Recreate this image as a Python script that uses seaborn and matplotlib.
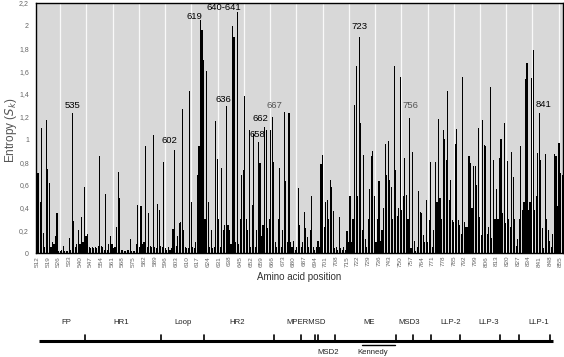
import numpy as np
import pandas as pd
import matplotlib
matplotlib.use("Agg")
import matplotlib.pyplot as plt
import seaborn as sns

sns.set_theme(style="white")
plt.rcParams['font.family'] = ['Liberation Sans', 'DejaVu Sans']

# ---------------- data ----------------
first_pos = 512
entropy = [
    # 512-530
    0.70, 0.70, 0.45, 1.10, 0.18, 0.05, 1.17, 0.74, 0.62, 0.05, 0.10, 0.08, 0.15, 0.35, 0.02, 0.02, 0.03, 0.06, 0.02,
    # 531-550
    0.02, 0.02, 0.13, 0.03, 1.23, 0.28, 0.05, 0.08, 0.20, 0.08, 0.32, 0.10, 0.58, 0.15, 0.17, 0.05, 0.04, 0.05, 0.04, 0.05,
    # 551-570
    0.04, 0.06, 0.85, 0.06, 0.05, 0.03, 0.52, 0.03, 0.08, 0.15, 0.08, 0.04, 0.05, 0.23, 0.71, 0.48, 0.03, 0.03, 0.02, 0.02,
    # 571-590
    0.03, 0.03, 0.12, 0.02, 0.02, 0.02, 0.08, 0.42, 0.05, 0.41, 0.08, 0.10, 0.94, 0.05, 0.35, 0.06, 0.05, 1.04, 0.05, 0.04,
    # 591-610
    0.43, 0.38, 0.06, 0.05, 0.80, 0.04, 0.03, 0.05, 0.03, 0.04, 0.21, 0.91, 0.06, 0.15, 0.26, 0.27, 1.27, 0.20, 0.05, 0.04,
    # 611-630
    0.04, 1.43, 0.45, 0.05, 0.04, 0.10, 0.69, 0.94, 2.05, 1.96, 1.70, 0.30, 1.60, 0.45, 0.05, 0.20, 0.04, 0.05, 1.16, 0.83,
    # 631-650
    0.30, 0.05, 0.75, 0.20, 0.25, 1.29, 0.25, 0.20, 0.08, 2.00, 1.90, 0.10, 2.12, 0.08, 0.30, 0.69, 0.73, 1.38, 0.30, 0.20,
    # 651-670
    1.08, 0.05, 0.42, 1.05, 0.05, 0.20, 0.98, 0.79, 0.15, 0.25, 1.11, 1.08, 0.22, 0.30, 1.08, 1.20, 0.80, 0.10, 0.05, 0.30,
    # 671-690
    0.75, 0.05, 0.20, 1.24, 0.63, 0.10, 1.23, 0.10, 0.05, 0.11, 0.03, 0.05, 0.57, 0.25, 0.05, 0.10, 0.36, 0.22, 0.14, 0.05,
    # 691-710
    0.20, 0.50, 0.05, 0.03, 0.05, 0.11, 0.05, 0.78, 0.86, 0.23, 0.45, 0.47, 0.30, 0.64, 0.58, 0.37, 0.04, 0.05, 0.03, 0.32,
    # 711-730
    0.04, 0.03, 0.05, 0.03, 0.19, 0.10, 0.50, 0.10, 0.30, 1.30, 1.65, 0.50, 1.90, 1.14, 0.20, 0.86, 0.12, 0.05, 0.30, 0.56,
    # 731-750
    0.85, 0.90, 0.50, 0.10, 0.30, 0.63, 0.11, 0.20, 0.40, 0.96, 0.69, 0.99, 0.64, 0.58, 0.30, 1.65, 0.73, 0.33, 0.40, 1.55,
    # 751-770
    0.38, 0.50, 0.84, 0.51, 0.30, 1.19, 0.04, 0.89, 0.11, 0.02, 0.05, 0.55, 0.36, 0.35, 0.16, 0.10, 0.47, 0.10, 0.29, 0.80,
    # 771-790
    0.05, 0.20, 0.80, 0.45, 1.18, 0.48, 0.30, 1.08, 1.00, 0.82, 1.43, 0.47, 0.64, 0.29, 0.27, 0.96, 1.09, 0.29, 0.25, 0.17,
    # 791-810
    1.55, 0.27, 0.23, 0.23, 0.85, 0.79, 0.40, 0.77, 0.77, 0.60, 1.10, 0.32, 0.16, 1.17, 0.95, 0.94, 0.17, 0.23, 1.46, 0.13,
    # 811-830
    0.82, 0.30, 0.56, 0.30, 0.84, 1.00, 0.35, 1.14, 0.26, 0.81, 0.30, 0.23, 0.89, 0.67, 0.30, 0.06, 0.12, 0.30, 0.94, 0.38,
    # 831-850
    0.45, 1.53, 1.67, 0.38, 0.45, 1.54, 1.79, 0.38, 0.50, 0.88, 1.23, 0.82, 0.22, 0.04, 0.87, 0.30, 0.20, 0.11, 0.05, 0.17,
    # 851-856
    0.87, 0.85, 0.41, 0.97, 0.70, 0.69,
]
positions = list(range(first_pos, first_pos + len(entropy)))

tick_positions = list(range(512, 856, 7))
ytick_values = [0, 0.2, 0.4, 0.6, 0.8, 1.0, 1.2, 1.4, 1.6, 1.8, 2.0, 2.2]
ytick_labels = ["0", "0,2", "0,4", "0,6", "0,8", "1", "1,2", "1,4", "1,6", "1,8", "2", "2,2"]

# peak annotations: text, x (position), y (entropy), colour
peak_text = ["535", "602", "619", "640-641", "636", "662", "658", "667", "723", "756", "841"]
peak_x = [535, 598.6, 615.3, 634.6, 633.8, 658.6, 656.3, 667.8, 723.2, 756.5, 843.6]
peak_y = [1.30, 0.99, 2.08, 2.16, 1.35, 1.18, 1.04, 1.30, 1.99, 1.30, 1.31]
peak_col = ["black", "black", "black", "black", "black", "black", "black", "#555555", "black", "#555555", "black"]

# domain map
domain_names = ["FP", "HR1", "Loop", "HR2", "MPERMSD", "ME", "MSD3", "LLP-2", "LLP-3", "LLP-1"]
domain_centers = [531, 567, 607.3, 643.3, 688, 729.6, 755.7, 783.1, 808, 840.7]
boundary_pos = [543, 593, 621, 667, 685, 694, 696, 707, 747, 758, 770, 789, 815, 828, 848]
map_start, map_end = 513, 850
lower_names = ["MSD2", "Kennedy"]
lower_centers = [702.9, 731.6]
kennedy_span = [724.9, 746.7]

grid_positions = [527, 544.2, 561.4, 578.6, 595.8, 613, 630.2, 647.4, 664.6, 681.8,
                  699, 716.2, 733.4, 750.6, 767.8, 785, 802.2, 819.4, 836.6, 853.8]

df = pd.DataFrame({"pos": positions, "entropy": entropy})

# ---------------- figure ----------------
W, H = 564, 357
fig = plt.figure(figsize=(W / 100, H / 100), dpi=100)
x0_px, x1_px = 36, 563
ax = fig.add_axes([x0_px / W, 1 - 253 / H, (x1_px - x0_px) / W, 250 / H])
ax.set_facecolor("#d8d8d8")

xlim = (first_pos - 0.8, positions[-1] + 0.6)

for g in grid_positions:
    ax.axvline(g, color="white", lw=0.9, alpha=0.85, zorder=0)

sns.barplot(data=df, x="pos", y="entropy", native_scale=True, color="black",
            saturation=1, width=0.74, linewidth=0, ax=ax, zorder=2)

ax.set_xlim(*xlim)
ax.set_ylim(0, 2.2)
ax.set_yticks(ytick_values)
ax.set_yticklabels(ytick_labels, fontsize=5, color="#666666")
ax.set_xticks(tick_positions)
ax.set_xticklabels([str(t) for t in tick_positions], rotation=90, fontsize=4.6, color="#666666")
ax.tick_params(axis="both", length=0, pad=2)
ax.tick_params(axis="y", pad=5)
for s in ax.spines.values():
    s.set_color("black")
    s.set_linewidth(1.0)

ax.set_xlabel("Amino acid position", fontsize=7, color="#333333", labelpad=4)
ax.set_ylabel("Entropy ($S_k$)", fontsize=8.5, color="#555555")
ax.yaxis.set_label_coords(-0.032, 0.49)

for t, px, py, c in zip(peak_text, peak_x, peak_y, peak_col):
    ax.text(px, py, t, ha="center", va="center", fontsize=6.8, color=c, zorder=5)

# ---------------- domain map ----------------
ax2 = fig.add_axes([x0_px / W, 0, (x1_px - x0_px) / W, 67 / H])
ax2.set_xlim(*xlim)
ax2.set_ylim(357, 290)
ax2.axis("off")
ax2.plot([map_start, map_end], [341, 341], color="black", lw=2.2, solid_capstyle="butt")
for b in boundary_pos:
    ax2.plot([b, b], [341, 335], color="black", lw=1.2)
for n, c in zip(domain_names, domain_centers):
    ax2.text(c, 323, n, ha="center", va="center", fontsize=5.6, color="#222222")
for n, c in zip(lower_names, lower_centers):
    ax2.text(c, 352.5, n, ha="center", va="center", fontsize=5.6, color="#222222")
ax2.plot(kennedy_span, [345, 345], color="black", lw=1.0)

fig.savefig("out.png", dpi=100)
